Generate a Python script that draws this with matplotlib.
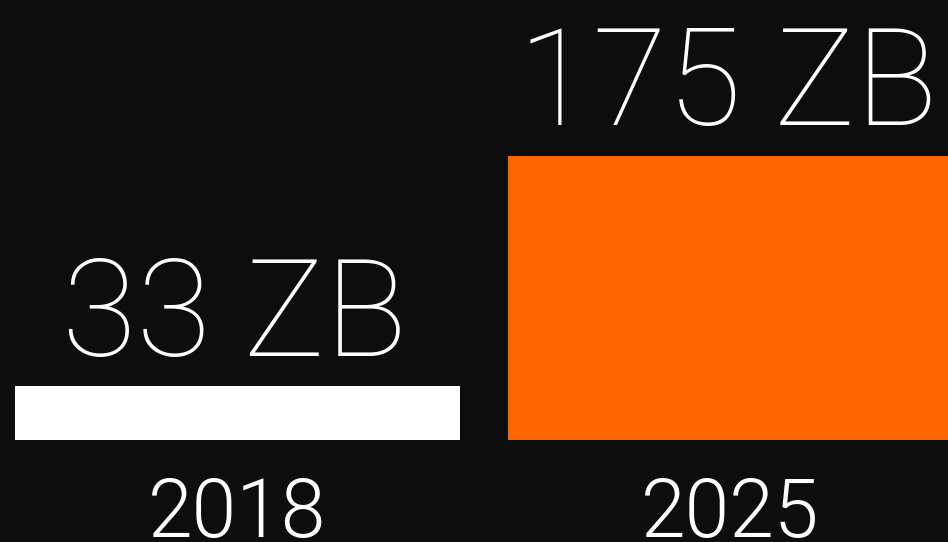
import matplotlib
matplotlib.use("Agg")
import matplotlib.pyplot as plt

years = ["2018", "2025"]
values = [33, 175]
value_labels = ["33 ZB", "175 ZB"]
colors = ["#ffffff", "#ff6600"]

W, H, DPI = 948, 542, 100
fig = plt.figure(figsize=(W / DPI, H / DPI), dpi=DPI, facecolor="#0d0d0d")
ax = fig.add_axes([0, 0, 1, 1])
ax.set_facecolor("#0d0d0d")

spacing_px = 493.0
bar_w = 445.0 / spacing_px
ax.set_xlim(-237.5 / spacing_px, 1 + (W - 730.5) / spacing_px)
scale = 1.625
base_px = 102.0
ax.set_ylim(-base_px / scale, (H - base_px) / scale)

xs = list(range(len(years)))
ax.bar(xs, values, width=bar_w, color=colors, linewidth=0)

fam = ["Roboto", "DejaVu Sans"]
for x, v, lab in zip(xs, values, value_labels):
    ax.annotate(lab, (x, v), xytext=(-2, 22), textcoords="offset points",
                ha="center", va="baseline", color="white", fontsize=98,
                fontweight=200, family=fam)
for x, y in zip(xs, years):
    ax.text(x, -97 / scale, y, ha="center", va="baseline", color="white",
            fontsize=58, fontweight=300, family=fam)

ax.axis("off")
fig.savefig("out.png", dpi=DPI, facecolor=fig.get_facecolor())
